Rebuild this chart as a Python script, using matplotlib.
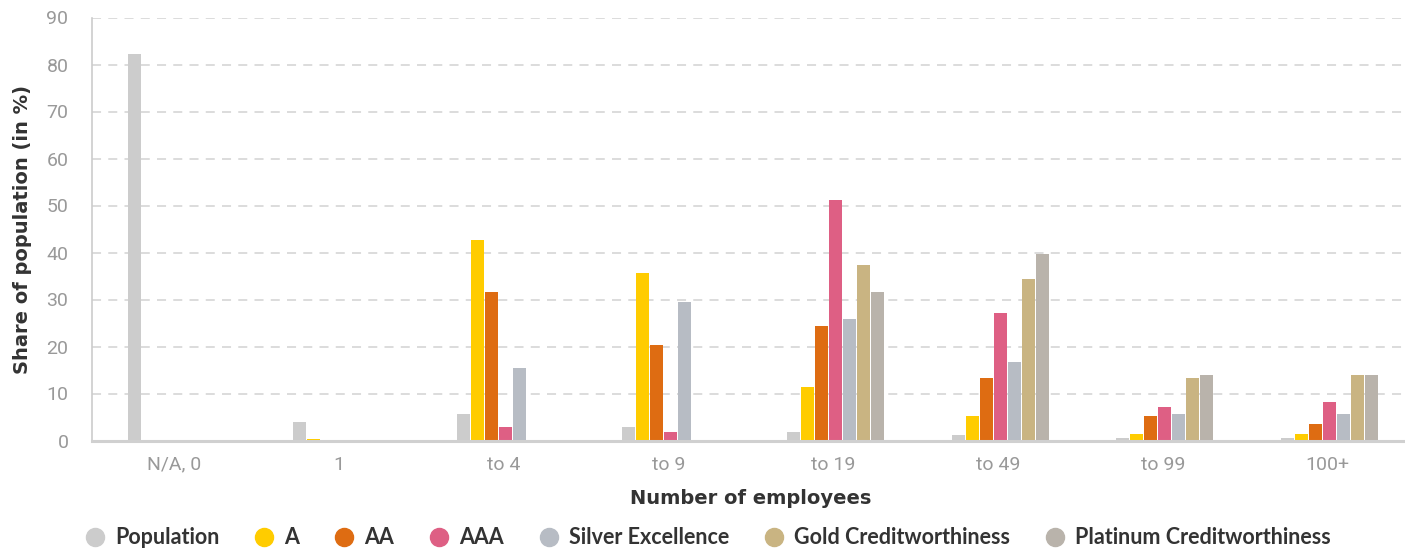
import matplotlib
matplotlib.use("Agg")
import matplotlib.pyplot as plt
import numpy as np
from matplotlib.lines import Line2D

categories = ["N/A, 0", "1", "to 4", "to 9", "to 19", "to 49", "to 99", "100+"]
series_names = ["Population", "A", "AA", "AAA", "Silver Excellence",
                "Gold Creditworthiness", "Platinum Creditworthiness"]
colors = ["#cccccc", "#ffcc00", "#de6c12", "#de5f84", "#b7bcc4", "#c9b482", "#b9b3ab"]

# None = no bar in that category
population = [82.2, 3.9, 5.6, 2.9, 1.8, 1.2, 0.5, 0.5]
a_rating = [0, 0.3, 42.7, 35.6, 11.4, 5.2, 1.4, 1.4]
aa_rating = [0, 0, 31.6, 20.3, 24.4, 13.3, 5.2, 3.5]
aaa_rating = [0, 0, 2.9, 1.8, 51.2, 27.1, 7.1, 8.2]
silver = [0, 0, 15.4, 29.5, 25.9, 16.7, 5.6, 5.6]
gold = [0, 0, None, None, 37.3, 34.4, 13.3, 13.9]
platinum = [0, 0, None, None, 31.6, 39.7, 13.9, 13.9]

all_series = [population, a_rating, aa_rating, aaa_rating, silver, gold, platinum]

plt.rcParams['font.family'] = ['Roboto', 'DejaVu Sans']

W, H = 1405, 548
fig = plt.figure(figsize=(W / 100, H / 100), dpi=100)
left, right, top, bottom = 92, 1410, 17.5, 440.5
ax = fig.add_axes([left / W, 1 - bottom / H, (right - left) / W, (bottom - top) / H])

pitch = 14 / 164.7
width = 13 / 164.7
x = np.arange(len(categories))
for k, (vals, col) in enumerate(zip(all_series, colors)):
    xs = [xi + (k - 3) * pitch + 0.012 for xi, v in zip(x, vals) if v is not None]
    hs = [v for v in vals if v is not None]
    ax.bar(xs, hs, width=width, color=col, zorder=3, linewidth=0)

ax.set_xlim(-0.5, 7.5)
ax.set_ylim(0, 90)
ax.set_yticks(range(0, 91, 10))
ax.yaxis.grid(True, color="#d9d9d9", linestyle=(0, (5, 4)), linewidth=1.3, zorder=0)
ax.set_axisbelow(True)

for s in ["top", "right"]:
    ax.spines[s].set_visible(False)
ax.spines["left"].set_color("#cccccc")
ax.spines["left"].set_linewidth(1.2)
ax.spines["bottom"].set_color("#d0d0d0")
ax.spines["bottom"].set_linewidth(2.2)
ax.spines["bottom"].set_zorder(4)

ax.set_xticks(x)
ax.set_xticklabels(categories)
ax.tick_params(axis="both", length=0, colors="#999999", labelsize=14)
ax.tick_params(axis="y", pad=17)
ax.tick_params(axis="x", pad=11)

title_font = ['DejaVu Sans']
ax.set_xlabel("Number of employees", fontsize=14, fontweight="bold", color="#333333",
              labelpad=11, family=title_font)
ax.set_ylabel("Share of population (in %)", fontsize=14, fontweight="bold", color="#333333",
              labelpad=10, family=title_font)

handles = [Line2D([], [], marker="o", linestyle="", markersize=13, markerfacecolor=c,
                  markeredgecolor=c) for c in colors]
fig.legend(handles, series_names, loc="center", bbox_to_anchor=(0.5035, 1 - 538 / H), ncol=7,
           frameon=False, handletextpad=0.42, columnspacing=1.6,
           prop={"family": "Lato", "weight": "bold", "size": 15.5}, labelcolor="#333333",
           handlelength=1.0)

fig.savefig("out.png", dpi=100)
